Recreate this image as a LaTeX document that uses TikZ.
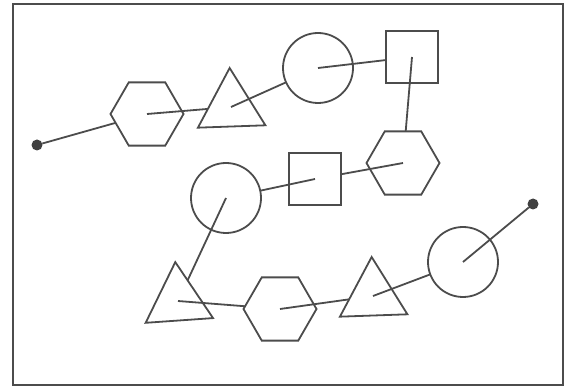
\documentclass[tikz,border=0pt]{standalone}
\usepackage{tikz}
\usetikzlibrary{shapes.geometric}

\begin{document}
\begin{tikzpicture}[
  x=1pt, y=-1pt,
  every node/.style={draw=black!70,line width=1.8pt,inner sep=0pt,outer sep=0pt},
  hexa/.style={regular polygon,regular polygon sides=6,minimum size=73pt},
  tri/.style={regular polygon,regular polygon sides=3,minimum size=78pt},
  circ/.style={circle,minimum size=70pt},
  sq/.style={rectangle,minimum size=52pt},
  endpt/.style={circle,fill=black!75,draw=none,minimum size=11pt},
  link/.style={draw=black!70,line width=1.8pt}]
  \useasboundingbox (0,0) rectangle (573,387);
  \draw[line width=2pt,black!70] (13,4) rectangle (563,385);
  \node[endpt] (a) at (37,145) {};
  \node[hexa] (b) at (147,114) {};
  \node[tri,rotate=2] (c) at (231,107) {};
  \node[circ] (d) at (318,68) {};
  \node[sq] (e) at (412,57) {};
  \node[hexa] (f) at (403,163) {};
  \node[sq] (g) at (315,179) {};
  \node[circ] (h) at (226,198) {};
  \node[tri,rotate=4] (i) at (178,301) {};
  \node[hexa] (j) at (280,309) {};
  \node[tri,rotate=2] (k) at (373,296) {};
  \node[circ] (l) at (463,262) {};
  \node[endpt] (m) at (533,204) {};
  \draw[link] (a) -- (b); \draw[link] (b.center) -- (c);
  \draw[link] (c.center) -- (d); \draw[link] (d.center) -- (e);
  \draw[link] (e.center) -- (f); \draw[link] (f.center) -- (g);
  \draw[link] (g.center) -- (h); \draw[link] (h.center) -- (i);
  \draw[link] (i.center) -- (j); \draw[link] (j.center) -- (k);
  \draw[link] (k.center) -- (l); \draw[link] (l.center) -- (m);
\end{tikzpicture}
\end{document}
